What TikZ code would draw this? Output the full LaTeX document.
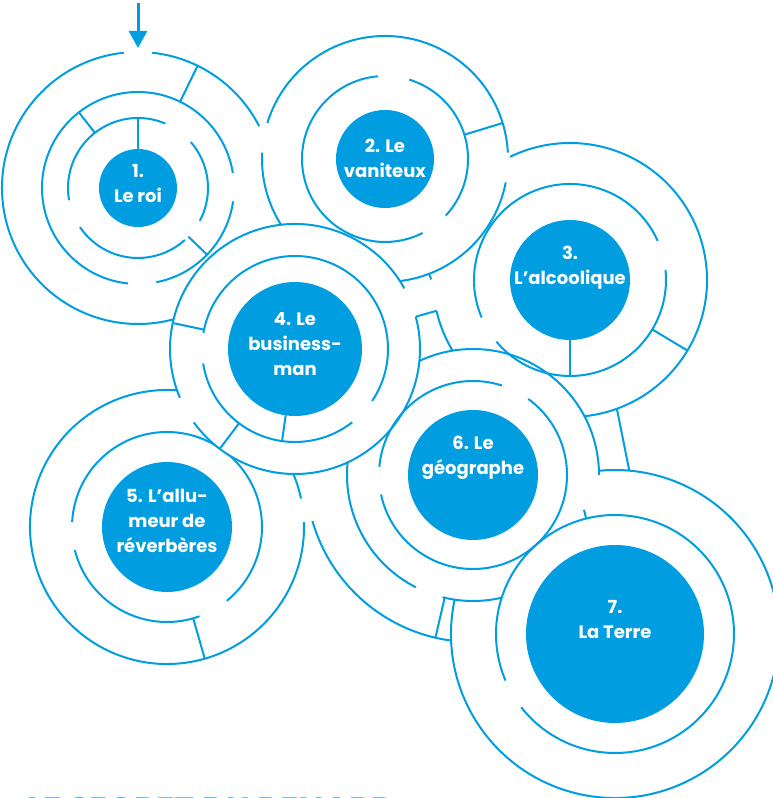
\documentclass[tikz,border=0pt]{standalone}
\usepackage{fontspec}
\setmainfont{Poppins}
\usepackage{tikz}
\usetikzlibrary{arrows.meta}
\definecolor{mazeblue}{RGB}{0,158,224}

\begin{document}
\begin{tikzpicture}[x=1pt,y=1pt,
    wall/.style={mazeblue, line width=2pt},
    planet/.style={circle, fill=mazeblue, draw=none, inner sep=0pt},
    planetname/.style={text=white, font=\bfseries\fontsize{18}{25}\selectfont, align=center}]
    \useasboundingbox (0,0) rectangle (772,798);

    % centres des labyrinthes
    \coordinate (m1) at (138,610);
    \coordinate (m2) at (385,639);
    \coordinate (m3) at (570,518);
    \coordinate (m4) at (295,449);
    \coordinate (m5) at (167,271);
    \coordinate (m6) at (473,323);
    \coordinate (m7) at (615,164);

    % entree
    \coordinate (depart) at (138,795);
    \coordinate (entree) at (138,750);
    \draw[mazeblue, line width=3pt, -{Triangle[width=18pt,length=17pt]}] (depart) -- (entree);

    % 1. le roi
    \foreach \a/\b in {67/190, 214/312, -28/41}
        \draw[wall] (m1) ++(\a:70) arc[start angle=\a, end angle=\b, radius=70];
    \foreach \a/\b in {9/264, 281/352}
        \draw[wall] (m1) ++(\a:96) arc[start angle=\a, end angle=\b, radius=96];
    \foreach \a/\b in {27/84, 96/290}
        \draw[wall] (m1) ++(\a:136) arc[start angle=\a, end angle=\b, radius=136];
    \foreach \a/\r/\s in {90/39/31, 128/70/26, -44/70/26, 64/96/40}
        \draw[wall] (m1) ++(\a:\r) -- ++(\a:\s);
    \node[planet, minimum size=78pt] (roi) at (m1) {};
    \node[planetname] (roi-t) at ([yshift=4]roi.center) {1.\\Le roi};

    % 3. l'alcoolique (anneau exterieur)
    \draw[wall] (m3) ++(-167:137) arc[start angle=-167, end angle=116, radius=137];
    \draw[wall] (m3) ++(-31:96) -- ++(-31:41);

    % 2. le vaniteux
    \fill[white] (m2) circle (123);
    \foreach \a/\b in {-43/73, 95/297}
        \draw[wall] (m2) ++(\a:83) arc[start angle=\a, end angle=\b, radius=83];
    \foreach \a/\b in {3/163, 177/276, -84/-11}
        \draw[wall] (m2) ++(\a:123) arc[start angle=\a, end angle=\b, radius=123];
    \draw[wall] (m2) ++(17:83) -- ++(17:40);
    \draw[wall] (m2) ++(-69:123) -- ++(-69:6);
    \node[planet, minimum size=98pt] (vaniteux) at (m2) {};
    \node[planetname] (vaniteux-t) at ([yshift=1]vaniteux.center) {2. Le\\vaniteux};

    % 5. l'allumeur de reverberes
    \foreach \a/\b in {-51/177, 194/290}
        \draw[wall] (m5) ++(\a:95) arc[start angle=\a, end angle=\b, radius=95];
    \draw[wall] (m5) ++(12:137) arc[start angle=12, end angle=362, radius=137];
    \draw[wall] (m5) ++(-74:95) -- ++(-74:42);
    \node[planet, minimum size=130pt] (allumeur) at (m5) {};
    \node[planetname] (allumeur-t) at ([yshift=6]allumeur.center) {5. L’allu-\\meur de\\réverbères};

    % 7. la Terre (anneau exterieur)
    \fill[white] (m7) circle (164);
    \draw[wall] (m7) ++(-192:164) arc[start angle=-192, end angle=98, radius=164];
    \draw[wall] (m7) ++(98:164) -- ++(-82:10);
    \draw[wall] ([shift={(-70:137)}]m3) -- ([shift={(85:164)}]m7);

    % 6. le geographe (anneaux exterieurs)
    \fill[white] (m6) circle (126);
    \foreach \a/\b in {0/243, 256/283}
        \draw[wall] (m6) ++(\a:126) arc[start angle=\a, end angle=\b, radius=126];
    \draw[wall] (m6) ++(196:167) arc[start angle=196, end angle=262, radius=167];
    \draw[wall] (m6) ++(257:126) -- ++(257:40);

    % 4. le businessman
    \fill[white] (m4) circle (125);
    \foreach \a/\b in {-34/170, 189/308}
        \draw[wall] (m4) ++(\a:93) arc[start angle=\a, end angle=\b, radius=93];
    \foreach \a/\b in {29/203, 216/375}
        \draw[wall] (m4) ++(\a:125) arc[start angle=\a, end angle=\b, radius=125];
    \foreach \a/\r/\s in {262/67/26, 168/93/32, 233/93/32}
        \draw[wall] (m4) ++(\a:\r) -- ++(\a:\s);
    \draw[wall] ([shift={(15:125)}]m4) -- ([shift={(193:137)}]m3);
    \node[planet, minimum size=134pt] (business) at (m4) {};
    \node[planetname] (business-t) at ([yshift=5]business.center) {4. Le\\business-\\man};

    % 3. l'alcoolique
    \foreach \a/\b in {24/203, 220/366}
        \draw[wall] (m3) ++(\a:96) arc[start angle=\a, end angle=\b, radius=96];
    \draw[wall] (m3) ++(-90:60) -- ++(-90:36);
    \node[planet, minimum size=120pt] (alcoolique) at (m3) {};
    \node[planetname] (alcoolique-t) at ([yshift=12]alcoolique.center) {3.\\L’alcoolique};

    % 7. la Terre
    \draw[wall] (m7) ++(218:119) arc[start angle=218, end angle=563, radius=119];
    \draw[wall] (m7) ++(104:119) -- ++(104:9);
    \node[planet, minimum size=178pt] (terre) at (m7) {};
    \node[planetname] (terre-t) at ([yshift=14]terre.center) {7.\\La Terre};

    % 6. le geographe
    \foreach \a/\b in {72/175, 192/414}
        \draw[wall] (m6) ++(\a:94) arc[start angle=\a, end angle=\b, radius=94];
    \node[planet, minimum size=130pt] (geographe) at (m6) {};
    \node[planetname] (geographe-t) at ([yshift=17]geographe.center) {6. Le\\géographe};

    % titre coupe en bas
    \node[anchor=north west, inner sep=0pt, text=mazeblue!70,
        font=\bfseries\fontsize{34}{34}\selectfont] (titre) at (27,1) {LE SECRET DU RENARD};
\end{tikzpicture}
\end{document}
